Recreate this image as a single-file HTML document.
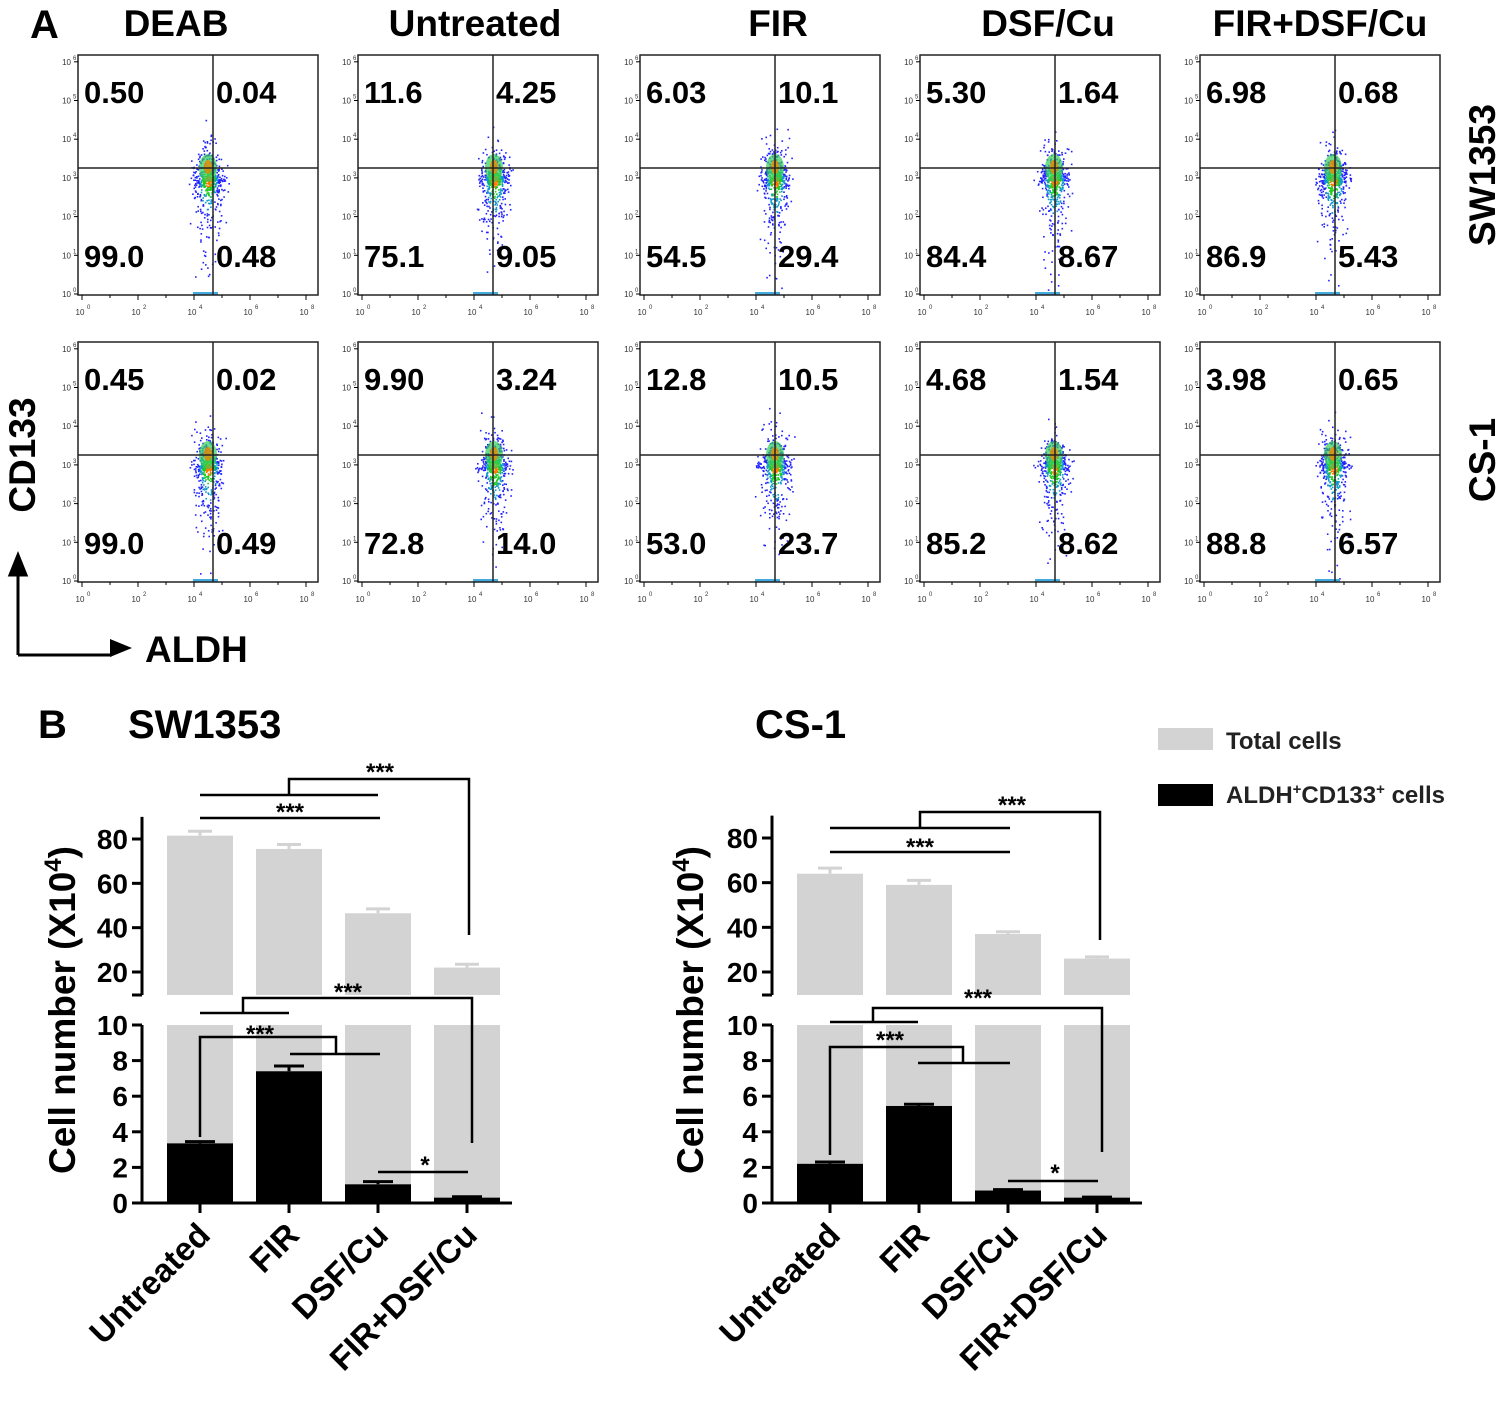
<!DOCTYPE html>
<html><head><meta charset="utf-8"><style>
body{margin:0;background:#fff}
svg{display:block;font-family:"Liberation Sans",Arial,sans-serif}
</style></head><body>
<svg id="fig" width="1500" height="1401" viewBox="0 0 1500 1401">
<g id="flow"></g>
<g id="bars"></g>
</svg>
<script>
// ---------- Flow data ----------
const conditions = ["DEAB","Untreated","FIR","DSF/Cu","FIR+DSF/Cu"];
const cellLines = ["SW1353","CS-1"];
const ulVals = [["0.50","11.6","6.03","5.30","6.98"],["0.45","9.90","12.8","4.68","3.98"]];
const urVals = [["0.04","4.25","10.1","1.64","0.68"],["0.02","3.24","10.5","1.54","0.65"]];
const llVals = [["99.0","75.1","54.5","84.4","86.9"],["99.0","72.8","53.0","85.2","88.8"]];
const lrVals = [["0.48","9.05","29.4","8.67","5.43"],["0.49","14.0","23.7","8.62","6.57"]];

// ---------- Bar data ----------
const categories = ["Untreated","FIR","DSF/Cu","FIR+DSF/Cu"];
const totalSW = [81.5,75.5,46.5,22];
const totalSWErr = [2,2,2,1.5];
const aldhSW = [3.35,7.4,1.05,0.3];
const aldhSWErr = [0.1,0.3,0.15,0.05];
const totalCS = [64,59,37,26];
const totalCSErr = [2.5,2,1,0.8];
const aldhCS = [2.2,5.45,0.7,0.3];
const aldhCSErr = [0.1,0.1,0.05,0.03];
const yTicksUpper = [20,40,60,80];
const yTicksLower = [0,2,4,6,8,10];

const NS="http://www.w3.org/2000/svg";
function mk(tag,attrs,parent,text){const e=document.createElementNS(NS,tag);for(const k in attrs)e.setAttribute(k,attrs[k]);if(text!==undefined)e.textContent=text;parent.appendChild(e);return e;}
const flow=document.getElementById('flow');

let t=mk('text',{x:30,y:38,'font-size':40,'font-weight':'bold'},flow,'A');


const colX=[78,358,640,920,1200];
const titleX=[176,475,778,1048,1320];
conditions.forEach((c,i)=>{
  const e=mk('text',{x:titleX[i],y:36,'font-size':37,'font-weight':'bold','text-anchor':'middle'},flow,c);
  
  
});
cellLines.forEach((c,r)=>{
  const cy=r===0?175:460;
  const e=mk('text',{x:1495,y:cy,'font-size':37,'font-weight':'bold','text-anchor':'middle',transform:`rotate(-90 1495 ${cy})`},flow,c);
  
  
});
let ax=mk('text',{x:35,y:455,'font-size':37,'font-weight':'bold','text-anchor':'middle',transform:'rotate(-90 35 455)'},flow,'CD133');


mk('path',{d:'M18 655 V572 M18 555 l-8 20 h16 z M18 655 H112',stroke:'#000','stroke-width':3,fill:'#000'},flow);
mk('path',{d:'M132 648 l-22 -9 v18 z',fill:'#000'},flow);
ax=mk('text',{x:145,y:662,'font-size':37,'font-weight':'bold'},flow,'ALDH');



let seed=7;function rnd(){seed=(seed*16807)%2147483647;return seed/2147483647;}
function gauss(){return (rnd()+rnd()+rnd()+rnd()-2)/0.58;}
const clusterX=[130,136,135,134,133];
for(let r=0;r<2;r++){
  const top=r===0?55:342;
  for(let c=0;c<5;c++){
    const L=colX[c],W=240,H=240;
    const g=mk('g',{},flow);
    
    
    const cx=L+clusterX[c], cy=top+125;
    for(let k=0;k<500;k++){
      const gx=gauss(), gy=gauss();
      const x=cx+gx*7, y=cy+Math.abs(gy)*gy*9*(gy>0?1.6:0.5)+gy*7;
      if(y>top+H-3||y<top+60) continue;
      const d=Math.hypot(gx,gy);
      const col=d<0.5?'#f70':d<0.9?'#2c2':d<1.3?'#19c':'#22f';
      mk('rect',{x:x.toFixed(1),y:y.toFixed(1),width:1.6,height:1.6,fill:col},g);
    }
    mk('ellipse',{cx:cx,cy:cy-12,rx:9,ry:14,fill:'#3c5',opacity:0.7},g);
    mk('ellipse',{cx:cx,cy:cy-13,rx:4,ry:7,fill:'#e80',opacity:0.8},g);
    mk('rect',{x:L+115,y:top+H-3,width:25,height:3,fill:'#4ad'},g);
    mk('rect',{x:L,y:top,width:W,height:H,fill:'none',stroke:'#222','stroke-width':1.5},g);
    mk('line',{x1:L+135,y1:top,x2:L+135,y2:top+H,stroke:'#222','stroke-width':1.5},g);
    mk('line',{x1:L,y1:top+113,x2:L+W,y2:top+113,stroke:'#222','stroke-width':1.5},g);
    for(let d=0;d<=6;d++){const y=top+239-d*38.7;mk('line',{x1:L-4,y1:y,x2:L,y2:y,stroke:'#000'},g);
      mk('text',{x:L-7,y:y+3,'font-size':8,'text-anchor':'end',fill:'#333'},g,'10');
      mk('text',{x:L-5,y:y-2,'font-size':6,fill:'#333'},g,String(d));}
    for(let d=0;d<=8;d++){const x=L+4+d*28;mk('line',{x1:x,y1:top+H,x2:x,y2:top+H+(d%2?3:5),stroke:'#000'},g);
      if(d%2===0){mk('text',{x:x-2,y:top+H+20,'font-size':8,'text-anchor':'middle',fill:'#333'},g,'10');
      mk('text',{x:x+5,y:top+H+14,'font-size':6,fill:'#333'},g,String(d));}}
    const q=[[ulVals,L+6,top+48],[urVals,L+138,top+48],[llVals,L+6,top+212],[lrVals,L+138,top+212]];
    q.forEach(([arr,x,y])=>{const e=mk('text',{x:x,y:y,'font-size':31,'font-weight':'bold'},g,arr[r][c]);
      
      });
  }
}

// ---------- Bar charts ----------
const bars=document.getElementById('bars');
t=mk('text',{x:38,y:738,'font-size':40,'font-weight':'bold'},bars,'B');


const lg=mk('g',{},bars);


mk('rect',{x:1158,y:728,width:55,height:22,fill:'#d3d3d3'},lg);
mk('text',{x:1226,y:749,'font-size':24,'font-weight':'bold',fill:'#222'},lg,'Total cells');
mk('rect',{x:1158,y:784,width:55,height:22,fill:'#000'},lg);
const lt=mk('text',{x:1226,y:803,'font-size':24,'font-weight':'bold',fill:'#222'},lg,'ALDH');
mk('tspan',{'font-size':15,dy:-9},lt,'+');mk('tspan',{dy:9},lt,'CD133');mk('tspan',{'font-size':15,dy:-9},lt,'+');mk('tspan',{dy:9},lt,' cells');

function chart(o){
  const g=mk('g',{},bars);
  
  
  const tt=mk('text',{x:o.titleX,y:738,'font-size':40,'font-weight':'bold'},g,o.title);
  
  
  const ax=o.axisX, y0=1203, y10=1025;
  const yl=v=>y0-(y0-y10)*v/10;
  const yu=v=>o.y80+(80-v)*(o.y20-o.y80)/60;
  const bw=66;
  categories.forEach((c,i)=>{
    const cx=ax+58+i*89;
    const tb=mk('rect',{x:cx-bw/2,y:yu(o.total[i]),width:bw,height:995-yu(o.total[i]),fill:'#d3d3d3'},g);
    
    
    mk('rect',{x:cx-bw/2,y:y10,width:bw,height:y0-y10,fill:'#d3d3d3'},g);
    mk('path',{d:`M${cx} ${yu(o.total[i])} V${yu(o.total[i]+o.totalErr[i])} M${cx-12} ${yu(o.total[i]+o.totalErr[i])} H${cx+12}`,stroke:'#d3d3d3','stroke-width':3,fill:'none'},g);
    const ab=mk('rect',{x:cx-bw/2,y:yl(o.aldh[i]),width:bw,height:y0-yl(o.aldh[i]),fill:'#000'},g);
    
    
    mk('path',{d:`M${cx} ${yl(o.aldh[i])} V${yl(o.aldh[i]+o.aldhErr[i])} M${cx-15} ${yl(o.aldh[i]+o.aldhErr[i])} H${cx+15}`,stroke:'#000','stroke-width':3,fill:'none'},g);
    mk('line',{x1:cx,y1:y0,x2:cx,y2:y0+10,stroke:'#000','stroke-width':3},g);
    const lx=cx+12,ly=y0+34;
    const lab=mk('text',{x:lx,y:ly,'font-size':33,'font-weight':'bold','text-anchor':'end',transform:`rotate(-45 ${lx} ${ly})`},g,c);
    
    
  });
  mk('path',{d:`M${ax} ${yu(90)} V995 M${ax-10} 995 H${ax} M${ax} ${y10} V${y0} H${ax+370}`,stroke:'#000','stroke-width':3,fill:'none'},g);
  yTicksUpper.forEach(v=>{mk('line',{x1:ax-10,y1:yu(v),x2:ax,y2:yu(v),stroke:'#000','stroke-width':3},g);
    mk('text',{x:ax-14,y:yu(v)+10,'font-size':28,'font-weight':'bold','text-anchor':'end'},g,String(v));});
  yTicksLower.forEach(v=>{mk('line',{x1:ax-10,y1:yl(v),x2:ax,y2:yl(v),stroke:'#000','stroke-width':3},g);
    mk('text',{x:ax-14,y:yl(v)+10,'font-size':28,'font-weight':'bold','text-anchor':'end'},g,String(v));});
  const tx=o.ytX, ty=1010;
  const yt=mk('text',{x:tx,y:ty,'font-size':37,'font-weight':'bold','text-anchor':'middle',transform:`rotate(-90 ${tx} ${ty})`},g,'Cell number (X10');
  mk('tspan',{'font-size':24,dy:-14},yt,'4');mk('tspan',{dy:14},yt,')');
  
  
  const s=mk('path',{d:o.sig,stroke:'#000','stroke-width':2.5,fill:'none'},g);
  
  
  o.stars.forEach(([x,y,txt])=>mk('text',{x:x,y:y,'font-size':24,'font-weight':'bold','text-anchor':'middle'},g,txt));
}
chart({name:'chart-sw1353',title:'SW1353',titleX:128,axisX:142,y80:839,y20:972,ytX:75,
  total:totalSW,totalErr:totalSWErr,aldh:aldhSW,aldhErr:aldhSWErr,
  sig:'M200 795 H378 M289 795 V779 H469 V935 M200 818 H380 M200 1013 H289 M243 1013 V998 H472 V1143 M200 1137 V1037 H336 V1053 M290 1054 H380 M378 1172 H468',
  stars:[[380,780,'***'],[290,820,'***'],[348,1000,'***'],[260,1042,'***'],[425,1173,'*']]});
chart({name:'chart-cs1',title:'CS-1',titleX:755,axisX:772,y80:838,y20:972,ytX:703,
  total:totalCS,totalErr:totalCSErr,aldh:aldhCS,aldhErr:aldhCSErr,
  sig:'M830 828 H1010 M920 828 V812 H1100 V940 M830 852 H1010 M830 1022 H918 M873 1022 V1008 H1102 V1152 M830 1155 V1047 H963 V1063 M918 1063 H1010 M1008 1181 H1098',
  stars:[[1012,813,'***'],[920,855,'***'],[978,1006,'***'],[890,1048,'***'],[1055,1181,'*']]});
</script>
</body></html>
